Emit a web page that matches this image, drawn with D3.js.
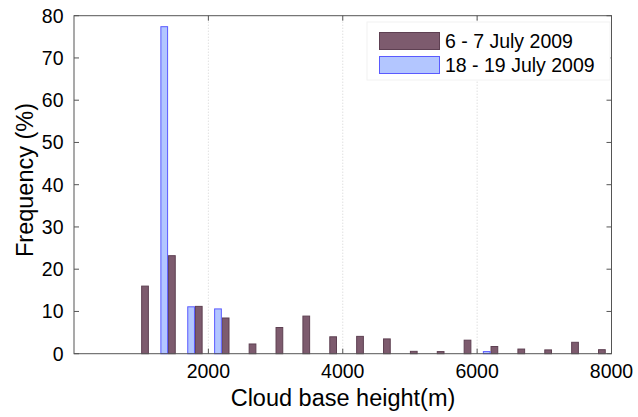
<!DOCTYPE html>
<html>
<head>
<meta charset="utf-8">
<script src="https://cdn.jsdelivr.net/npm/d3@7"></script>
<style>
    body { margin: 0; background: #fff; }
    text { font-family: "Liberation Sans", Arial, sans-serif; fill: #000; }
</style>
</head>
<body>
<div id="grafico"></div>
<script>
// Centros de los intervalos (m)
let intervalos = [1000, 1400, 1800, 2200, 2600, 3000, 3400, 3800, 4200,
    4600, 5000, 5400, 5800, 6200, 6600, 7000, 7400, 7800];

// Frecuencia (%) de cada campaña
let julio_6_7 = [16.0, 23.2, 11.2, 8.45, 2.3, 6.2, 8.9, 4.0, 4.1,
    3.5, 0.56, 0.5, 3.2, 1.7, 1.1, 0.9, 2.7, 0.95];
let julio_18_19 = [0, 77.4, 11.1, 10.6, 0, 0, 0, 0, 0,
    0, 0, 0, 0, 0.5, 0, 0, 0, 0];

let nombres_series = ["6 - 7 July 2009", "18 - 19 July 2009"];
let ticks_x = [2000, 4000, 6000, 8000];
let ticks_y = [0, 10, 20, 30, 40, 50, 60, 70, 80];

function generargrafico(id_div) {
    let ancho = 638, alto = 417;
    let margin = {top: 15.7, right: 26.5, bottom: 63.3, left: 74};
    let width = ancho - margin.left - margin.right,
        height = alto - margin.top - margin.bottom;

    let svg = d3.select("#" + id_div)
        .append("svg")
        .attr("width", ancho)
        .attr("height", alto);

    let g = svg.append("g")
        .attr("transform", "translate(" + margin.left + "," + margin.top + ")");

    let x = d3.scaleLinear()
        .domain([0, 8000])
        .range([0, width]);

    let y = d3.scaleLinear()
        .domain([0, 80])
        .range([height, 0]);

    // Rejilla vertical punteada
    g.append("g")
        .selectAll("line")
        .data([2000, 4000, 6000])
        .enter()
        .append("line")
        .attr("x1", d => x(d))
        .attr("x2", d => x(d))
        .attr("y1", 0)
        .attr("y2", height)
        .attr("stroke", "#c8c8c8")
        .attr("stroke-width", 0.8)
        .attr("stroke-dasharray", "1,2");

    let desplaz = 57, ancho_barra = 100;

    let series = [
        {nombre: nombres_series[0], datos: julio_6_7, offset: desplaz,
            fill: "#7d5b6e", stroke: "#5e4052"},
        {nombre: nombres_series[1], datos: julio_18_19, offset: -desplaz,
            fill: "#b3c6ff", stroke: "#5a5aff"}
    ];

    series.forEach(function (s) {
        let puntos = intervalos.map((c, i) => [c, s.datos[i]])
            .filter(d => d[1] > 0);
        g.append("g")
            .selectAll("rect")
            .data(puntos)
            .enter()
            .append("rect")
            .attr("x", d => x(d[0] + s.offset - ancho_barra / 2))
            .attr("width", x(ancho_barra) - x(0))
            .attr("y", d => y(d[1]))
            .attr("height", d => y(0) - y(d[1]))
            .attr("fill", s.fill)
            .attr("stroke", s.stroke)
            .attr("stroke-width", 1);
    });

    // Caja de ejes
    let color_eje = "#555";
    g.append("rect")
        .attr("x", 0)
        .attr("y", 0)
        .attr("width", width)
        .attr("height", height)
        .attr("fill", "none")
        .attr("stroke", color_eje)
        .attr("stroke-width", 1);

    // Marcas hacia dentro, abajo/arriba
    let tick_len = 5;
    ticks_x.forEach(function (t) {
        g.append("line")
            .attr("x1", x(t)).attr("x2", x(t))
            .attr("y1", height).attr("y2", height - tick_len)
            .attr("stroke", color_eje);
        g.append("line")
            .attr("x1", x(t)).attr("x2", x(t))
            .attr("y1", 0).attr("y2", tick_len)
            .attr("stroke", color_eje);
    });
    ticks_y.forEach(function (t) {
        g.append("line")
            .attr("x1", 0).attr("x2", tick_len)
            .attr("y1", y(t)).attr("y2", y(t))
            .attr("stroke", color_eje);
        g.append("line")
            .attr("x1", width).attr("x2", width - tick_len)
            .attr("y1", y(t)).attr("y2", y(t))
            .attr("stroke", color_eje);
    });

    // Etiquetas de los ticks
    g.append("g")
        .selectAll("text")
        .data(ticks_x)
        .enter()
        .append("text")
        .attr("x", d => x(d))
        .attr("y", height + 24.5)
        .attr("text-anchor", "middle")
        .style("font-size", "19.5px")
        .text(d => d);

    g.append("g")
        .selectAll("text")
        .data(ticks_y)
        .enter()
        .append("text")
        .attr("x", -10.5)
        .attr("y", d => y(d))
        .attr("dy", "0.36em")
        .attr("text-anchor", "end")
        .style("font-size", "19.5px")
        .text(d => d);

    //Etiqueta eje X
    svg.append("text")
        .attr("text-anchor", "middle")
        .attr("x", 343)
        .attr("y", 405.5)
        .style("font-size", "23.5px")
        .text("Cloud base height(m)");

    //Etiqueta eje Y
    svg.append("text")
        .attr("text-anchor", "middle")
        .attr("transform", "translate(32.5,180) rotate(-90)")
        .style("font-size", "23.5px")
        .text("Frequency (%)");

    // Leyenda
    let leyenda = svg.append("g").attr("id", "leyenda");
    leyenda.append("rect")
        .attr("x", 367)
        .attr("y", 22)
        .attr("width", 243)
        .attr("height", 58)
        .attr("fill", "#fff")
        .attr("stroke", "#f2f2f2");

    series.forEach(function (s, i) {
        leyenda.append("rect")
            .attr("x", 379.5)
            .attr("y", 32.5 + i * 24)
            .attr("width", 60)
            .attr("height", 17)
            .attr("fill", s.fill)
            .attr("stroke", s.stroke);
        leyenda.append("text")
            .attr("x", 445)
            .attr("y", 47.5 + i * 24)
            .style("font-size", "19.5px")
            .text(s.nombre);
    });
}

generargrafico("grafico");
</script>
</body>
</html>
